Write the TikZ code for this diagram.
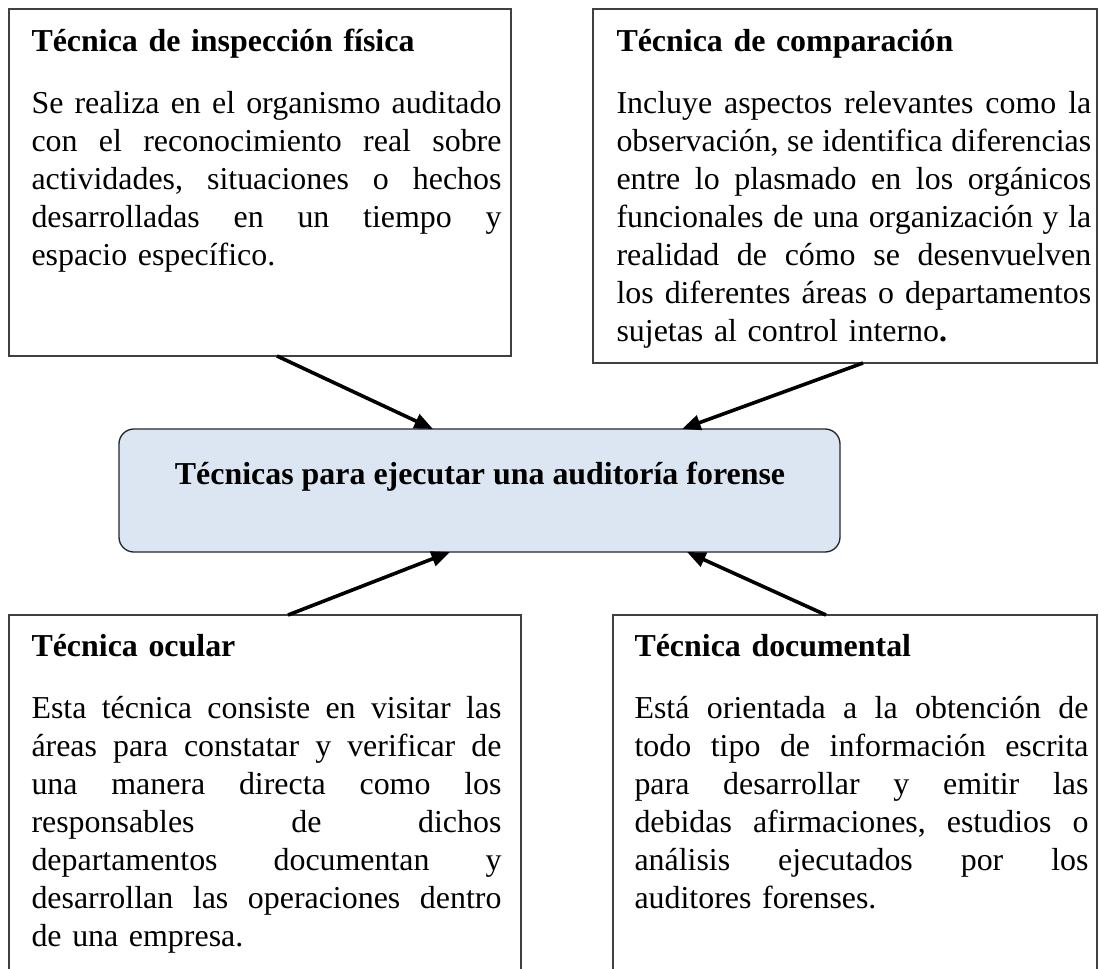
\documentclass[tikz,border=0pt]{standalone}
\usepackage{fontspec}
\setmainfont{Liberation Serif}
\usetikzlibrary{fit,calc,arrows.meta}
\setlength{\parindent}{0pt}
\newlength\jw
\newcommand\jline[1]{\hbox to \jw{\frenchspacing\spaceskip=3pt plus 1fil minus 1pt\relax #1}}
\definecolor{cfill}{HTML}{DCE6F2}
\begin{document}
\begin{tikzpicture}[x=0.376pt,y=-0.376pt,
  tbox/.style={draw=black!75, line width=0.5pt, inner sep=0pt, outer sep=0pt},
  cbox/.style={draw=black!85, fill=cfill, line width=0.5pt, rounded corners=5.6pt, inner sep=0pt, outer sep=0pt},
  txt/.style={anchor=north west, inner sep=0pt, font=\fontsize{12}{14.29}\selectfont},
  arr/.style={line width=1.35pt, -{Triangle[length=7pt,width=5.6pt]}}]
\useasboundingbox (0,0) rectangle (1099,968);
\clip (0,0) rectangle (1099,968);

% boxes
\node[tbox, fit={(9,9) (511,356)}] (b1) {};
\node[tbox, fit={(593,9) (1097,363)}] (b2) {};
\node[cbox, fit={(119,429) (840,552)}] (c) {};
\node[tbox, fit={(9,615) (521,990)}] (b3) {};
\node[tbox, fit={(613,615) (1097,990)}] (b4) {};

% texts
\node[txt, text width=176.7pt] (t1) at (31,24.4) {\setlength\jw{176.7pt}\strut\textbf{Técnica de inspección física}\par\vspace{9pt}%
\jline{Se realiza en el organismo auditado}%
\jline{con el reconocimiento real sobre}%
\jline{actividades, situaciones o hechos}%
\jline{desarrolladas en un tiempo y}%
espacio específico.};

\node[txt, text width=178.5pt] (t2) at (616,24.4) {\setlength\jw{178.5pt}\strut\textbf{Técnica de comparación}\par\vspace{9pt}%
\jline{Incluye aspectos relevantes como la}%
\jline{observación, se identifica diferencias}%
\jline{entre lo plasmado en los orgánicos}%
\jline{funcionales de una organización y la}%
\jline{realidad de cómo se desenvuelven}%
\jline{los diferentes áreas o departamentos}%
sujetas al control interno\textbf{.}};

\node[font=\fontsize{12}{14.29}\selectfont\bfseries, anchor=base, inner sep=0pt] (ct) at (480,484) {Técnicas para ejecutar una auditoría forense};

\node[txt, text width=176.7pt] (t3) at (31,629.4) {\setlength\jw{176.7pt}\strut\textbf{Técnica ocular}\par\vspace{9pt}%
\jline{Esta técnica consiste en visitar las}%
\jline{áreas para constatar y verificar de}%
\jline{una manera directa como los}%
\jline{responsables de dichos}%
\jline{departamentos documentan y}%
\jline{desarrollan las operaciones dentro}%
de una empresa.};

\node[txt, text width=170.7pt] (t4) at (634,629.4) {\setlength\jw{170.7pt}\strut\textbf{Técnica documental}\par\vspace{9pt}%
\jline{Está orientada a la obtención de}%
\jline{todo tipo de información escrita}%
\jline{para desarrollar y emitir las}%
\jline{debidas afirmaciones, estudios o}%
\jline{análisis ejecutados por los}%
auditores forenses.};

% arrows
\draw[arr] ($(b1.south west)+(268,0)$) -- ($(c.north west)+(314,0)$);
\draw[arr] ($(b2.south west)+(270,0)$) -- ($(c.north west)+(563,0)$);
\draw[arr] ($(b3.north west)+(279,0)$) -- ($(c.south west)+(331,0)$);
\draw[arr] ($(b4.north west)+(213,0)$) -- ($(c.south west)+(568,0)$);
\end{tikzpicture}
\end{document}
